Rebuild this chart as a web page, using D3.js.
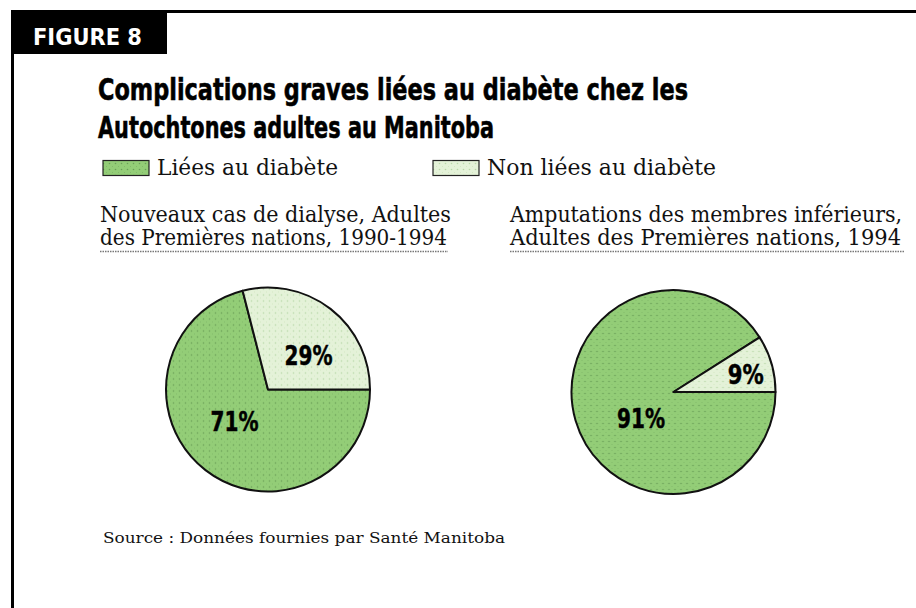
<!DOCTYPE html>
<html>
<head>
<meta charset="utf-8">
<script src="https://cdn.jsdelivr.net/npm/d3@7"></script>
<style>
  body { margin: 0; background: #fff; }
  .canvas { width: 916px; height: 608px; }
</style>
</head>
<body>
<div class="canvas"></div>
<script>
// data
const categories = ["Liées au diabète", "Non liées au diabète"];
const dialysisValues = [71, 29];
const amputationValues = [91, 9];
const panelTitles = [
  ["Nouveaux cas de dialyse, Adultes", "des Premières nations, 1990-1994"],
  ["Amputations des membres inférieurs,", "Adultes des Premières nations, 1994"]
];
const figureLabel = "FIGURE 8";
const titleLines = ["Complications graves liées au diabète chez les", "Autochtones adultes au Manitoba"];
const sourceText = "Source : Données fournies par Santé Manitoba";

const W = 916, H = 608;
const serif = "'DejaVu Serif', 'Liberation Serif', serif";
const heavy = "'DejaVu Sans', 'Liberation Sans Narrow', sans-serif";

const svg = d3.select('.canvas')
  .append('svg')
  .attr('width', W)
  .attr('height', H);

// dotted fills
const defs = svg.append("defs");
function dotPattern(id, bg, dot) {
  const p = defs.append("pattern")
      .attr("id", id)
      .attr("width", 6)
      .attr("height", 6)
      .attr("patternUnits", "userSpaceOnUse");
  p.append("rect").attr("width", 6).attr("height", 6).attr("fill", bg);
  p.append("circle").attr("cx", 1.5).attr("cy", 1.5).attr("r", 0.8).attr("fill", dot);
  p.append("circle").attr("cx", 4.5).attr("cy", 4.5).attr("r", 0.6).attr("fill", dot).attr("opacity", 0.5);
}
dotPattern("darkDots", "#93cd77", "#6a9f58");
dotPattern("lightDots", "#e4f2d8", "#b9d7a8");

const color = d3.scaleOrdinal()
    .domain(categories)
    .range(["url(#darkDots)", "url(#lightDots)"]);

// squeeze/stretch a text to a given width
function fit(sel, w) {
  sel.attr("textLength", w).attr("lengthAdjust", "spacingAndGlyphs");
  return sel;
}

// frame
svg.append("rect")
    .attr("x", 11).attr("y", 10)
    .attr("width", 156).attr("height", 44)
    .attr("fill", "#000");
svg.append("line")
    .attr("x1", 167).attr("x2", W)
    .attr("y1", 11.5).attr("y2", 11.5)
    .attr("stroke", "#000").attr("stroke-width", 3);
svg.append("line")
    .attr("x1", 12.5).attr("x2", 12.5)
    .attr("y1", 54).attr("y2", H)
    .attr("stroke", "#000").attr("stroke-width", 3);

fit(svg.append("text")
    .attr("x", 33).attr("y", 45)
    .attr("fill", "#fff")
    .style("font-family", heavy)
    .style("font-weight", 700)
    .style("font-size", "23px")
    .text(figureLabel), 109);

// title
const titleWidths = [590, 396];
titleLines.forEach((t, i) => {
  fit(svg.append("text")
      .attr("x", 98).attr("y", 100 + i * 38)
      .attr("fill", "#000")
      .attr("stroke", "#000")
      .attr("stroke-width", 0.6)
      .style("font-family", heavy)
      .style("font-weight", 700)
      .style("font-size", "30px")
      .text(t), titleWidths[i]);
});

// legend
const legendX = [103, 433];
const legendW = [181, 229];
const legend = svg.append("g");
categories.forEach((c, i) => {
  legend.append("rect")
      .attr("x", legendX[i]).attr("y", 160.5)
      .attr("width", 46).attr("height", 15)
      .attr("fill", color(c))
      .attr("stroke", "#222")
      .attr("stroke-width", 1.2);
  fit(legend.append("text")
      .attr("x", legendX[i] + 54).attr("y", 175)
      .attr("fill", "#111")
      .style("font-family", serif)
      .style("font-size", "21.5px")
      .text(c), legendW[i]);
});

// panels
const panels = [
  { values: dialysisValues, title: panelTitles[0], tx: 100, tw: [351, 347], ux: [100, 448], cx: 268, cy: 389.5,
    labelPos: [[9, 0.45], [12, 0.52]], labelW: [48, 48] },
  { values: amputationValues, title: panelTitles[1], tx: 510, tw: [392, 391], ux: [510, 905], cx: 673.5, cy: 392,
    labelPos: [[-23, 0.41], [2, 0.73]], labelW: [48, 36] }
];
const radius = 102;

const pie = d3.pie()
    .sort(null)
    .startAngle(Math.PI / 2)
    .endAngle(Math.PI / 2 + 2 * Math.PI);

const arc = d3.arc().innerRadius(0).outerRadius(radius);

panels.forEach(p => {
  const g = svg.append("g");

  p.title.forEach((t, i) => {
    fit(g.append("text")
        .attr("x", p.tx).attr("y", 221.5 + i * 23.5)
        .attr("fill", "#111")
        .style("font-family", serif)
        .style("font-size", "21.5px")
        .text(t), p.tw[i]);
  });
  g.append("line")
      .attr("x1", p.ux[0]).attr("x2", p.ux[1])
      .attr("y1", 251.5).attr("y2", 251.5)
      .attr("stroke", "#777")
      .attr("stroke-width", 1.5)
      .attr("stroke-dasharray", "1.5,1");

  const arcs = pie(p.values);
  const pg = g.append("g").attr("transform", `translate(${p.cx},${p.cy})`);

  pg.selectAll("path")
    .data(arcs)
    .join("path")
      .attr("d", arc)
      .attr("fill", (d, i) => color(categories[i]))
      .attr("stroke", "#111")
      .attr("stroke-width", 2)
      .attr("stroke-linejoin", "round");

  pg.selectAll("text")
    .data(arcs)
    .join("text")
      .attr("transform", (d, i) => {
        const a = (d.startAngle + d.endAngle) / 2 + p.labelPos[i][0] * Math.PI / 180;
        const r = radius * p.labelPos[i][1];
        return `translate(${r * Math.sin(a)},${-r * Math.cos(a) + 10})`;
      })
      .attr("text-anchor", "middle")
      .attr("fill", "#000")
      .attr("stroke", "#000")
      .attr("stroke-width", 0.5)
      .style("font-family", heavy)
      .style("font-weight", 700)
      .style("font-size", "27px")
      .text(d => d.data + "%")
      .each(function(d, i) { fit(d3.select(this), p.labelW[i]); });
});

// source
fit(svg.append("text")
    .attr("x", 103).attr("y", 543)
    .attr("fill", "#111")
    .style("font-family", serif)
    .style("font-size", "15px")
    .text(sourceText), 402);
</script>
</body>
</html>
